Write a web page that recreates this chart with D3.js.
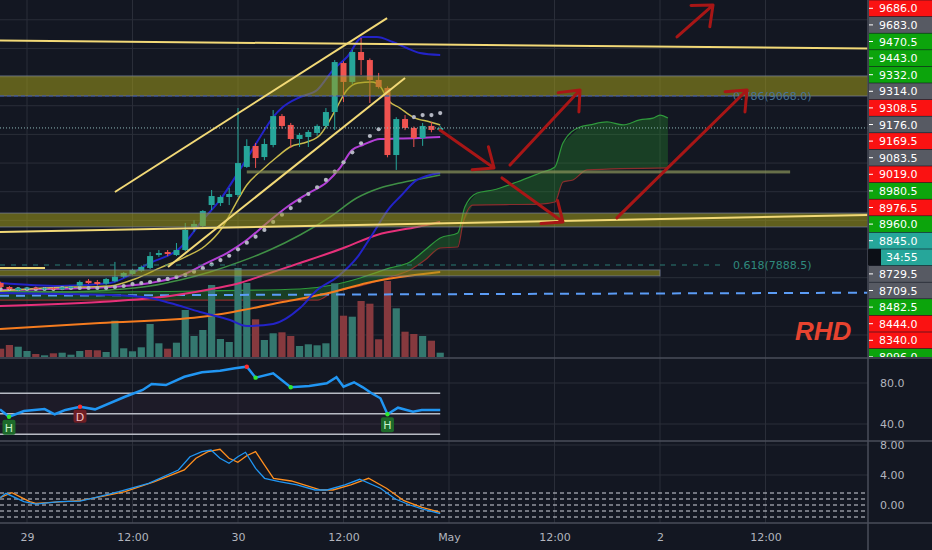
<!DOCTYPE html>
<html>
<head>
<meta charset="utf-8">
<script src="https://cdn.jsdelivr.net/npm/d3@7"></script>
<style>
  body { margin: 0; background: #131722; }
  svg { display: block; font-family: "DejaVu Sans", sans-serif; }
</style>
</head>
<body>
<svg id="chart" width="932" height="550"></svg>
<script>
// BTC 1h candles, hours counted from 29 Apr 2020 00:00
var hours = d3.range(-3, 48);
var opens  = [7763,7735,7714,7724,7730,7722,7727,7720,7730,7745,7778,7770,7758,7775,7807,7826,7847,7868,7958,7979,7958,7993,8154,8161,8307,8321,8363,8377,8573,8719,8642,8726,8928,8866,8768,8782,8810,8859,8956,9298,9166,9375,9319,9180,9124,8656,8907,8845,8775,8859,8831];
var highs  = [7772,7742,7735,7735,7738,7732,7735,7738,7742,7780,7791,7784,7798,7910,7840,7862,7885,7979,7993,7993,8042,8182,8200,8272,8412,8375,8426,8984,8766,8740,8770,8970,8942,8880,8810,8830,8870,8984,9319,9310,9390,9473,9330,9229,9135,8920,8935,8855,8880,8887,8860];
var lows   = [7728,7714,7707,7714,7718,7712,7714,7712,7724,7738,7755,7745,7750,7768,7798,7820,7840,7860,7945,7950,7951,7985,8120,8150,8272,8300,8307,8363,8566,8566,8620,8710,8840,8705,8712,8712,8790,8840,8831,9026,9150,9215,9019,9120,8640,8552,8830,8712,8720,8815,8820];
var closes = [7735,7721,7728,7730,7722,7726,7720,7732,7736,7770,7762,7756,7791,7807,7833,7854,7875,7951,7972,7965,7993,8133,8175,8265,8370,8363,8384,8600,8719,8635,8733,8928,8859,8768,8796,8817,8859,8956,9305,9166,9375,9319,9180,9131,8656,8907,8845,8775,8859,8831,8845];
var volumes = [332,480,412,240,120,68,148,172,92,240,280,268,200,1452,348,228,388,1320,548,332,572,1880,840,1080,2880,720,600,3560,2960,1508,680,948,988,840,440,508,468,548,2948,1652,1612,2240,2132,708,3040,1948,1012,920,840,652,172];
var sarDots = [7721,7721,7721,7721,7721,7721,7721,7728,7728,7728,7728,7728,7728,7735,7742,7756,7763,7770,7784,7791,7805,7819,7842,7866,7893,7923,7953,7998,8044,8086,8133,8189,8240,8286,8337,8384,8431,8482,8540,8605,8675,8738,8789,8836,8859,8887,8894,8921,8935,8935,8949];

// moving averages / bands as [hour, price]
var bbUpper = [[-3.07,7763],[3.75,7742],[9.44,7763],[14,7903],[17.4,8007],[20,8203],[21.95,8342],[24.2,8552],[25.4,8670],[26.8,8810],[28,8921],[29.1,8991],[31.05,9061],[33,9110],[34.8,9249],[36.4,9340],[38.2,9480],[39.8,9480],[41.6,9445],[43.2,9403],[44.7,9368],[47,9354]];
var bbLower = [[-3.07,7693],[3.75,7686],[9.44,7679],[14,7658],[16.26,7623],[19.68,7561],[23.09,7505],[25,7463],[28,7477],[31.05,7588],[33,7714],[35.3,7805],[37.6,7945],[39.1,8084],[41.3,8293],[42.4,8363],[44.36,8482],[47,8531]];
var smaFast = [[-3.07,7707],[2.05,7728],[9.44,7742],[12.28,7791],[15.13,7868],[17.97,7944],[20.25,8021],[22.18,8147],[23.66,8307],[25,8447],[26.73,8552],[28.43,8642],[29.91,8712],[31.85,8747],[33.33,8796],[34.46,8901],[35.26,8991],[36.4,9110],[37.65,9159],[39.24,9166],[40.15,9138],[41.06,9040],[42.42,8984],[43.9,8921],[45.84,8887],[47,8866]];
var emaMid = [[-3.07,7714],[9.44,7735],[14,7763],[17.4,7812],[20.47,7903],[22.75,7972],[25,8063],[27.3,8182],[29.57,8293],[31.85,8384],[34.12,8468],[35.6,8566],[36.97,8691],[38.2,8726],[40.15,8768],[42.42,8771],[44.7,8775],[47,8782]];
var emaSlow = [[-3.07,7700],[3.75,7700],[9.44,7714],[14,7742],[17.4,7784],[20.8,7840],[24.2,7910],[27.6,7993],[31.05,8098],[34.46,8223],[37.5,8356],[40.15,8426],[42.42,8461],[44.7,8489],[47,8517]];
var ema100 = [[-3.07,7602],[8.3,7630],[16.26,7672],[21.6,7728],[24.2,7763],[27.3,7826],[31.05,7902],[36.0,8007],[39.8,8098],[44.36,8154],[47,8189]];
var ema200 = [[-3.07,7442],[8.3,7484],[19.68,7526],[23.43,7561],[29.1,7630],[34.8,7700],[38.67,7763],[42.42,7805],[47,7840]];
var spanA = [[-3.07,7707],[8.3,7700],[19.68,7707],[31.05,7721],[34.8,7749],[37.9,7798],[41.3,7868],[43.56,7910],[45.27,7993],[47,8077],[49,8112],[49.8,8293],[51.2,8391],[53,8412],[55.73,8468],[58.35,8531],[60.05,8573],[60.96,8740],[62.9,8852],[64,8866],[65.97,8887],[67.8,8866],[69.7,8901],[71.2,8914],[72,8935],[72.9,8914]];
var spanB = [[-3.07,7644],[33,7644],[34.8,7700],[37.9,7742],[41.3,7805],[43.56,7854],[45.27,7923],[47,8007],[49,8014],[49.6,8182],[50.7,8307],[58.35,8314],[60.05,8328],[60.96,8468],[62.1,8482],[63.7,8552],[72.9,8566]];

// drawings: [hour1, price1, hour2, price2]
var trendLines = [[-3.07,9455,95.6,9400],[10.0,8398,40.96,9612],[16.04,7875,43.0,9194],[-3.07,8119,95.6,8238],[-3.07,7868,2.05,7868]];
var arrows = [[46.97,8831,53.12,8566],[54.94,8586,62.9,9110],[54.03,8496,60.96,8189],[67.1,8217,81.9,9110],[73.93,9480,78.03,9703]];
var zones = [[9208,9068,-3.2,96],[8251,8154,-3.2,96],[7854,7812,-3.2,72.0]];
var supportLine = [8538, 25.0, 86.8];
var blueDashed = [[-3.07,7674],[95.6,7695]];
var fibRatios = ["0.786","0.618"];
var fibPrices = [9068.0, 7888.5];
var fibEnd = 80.3;
var lastPrice = 8845.0;
var countdown = "34:55";

// price scale badges (top to bottom)
var axisPrices = [9686.0,9683.0,9470.5,9443.0,9332.0,9314.0,9308.5,9176.0,9169.5,9083.5,9019.0,8980.5,8976.5,8960.0,8845.0,8845.0,8729.5,8709.5,8482.5,8444.0,8340.0,8096.0];
var axisKinds  = ["dn","fl","up","up","up","fl","dn","fl","dn","fl","dn","up","dn","up","last","timer","fl","fl","up","dn","dn","up"];

// oscillators
var rsi = [[-3.07,54.3],[-2.05,47.1],[-0.34,52.7],[2,54.6],[3.15,49.5],[4.37,53.7],[6.03,56.9],[7.74,54.3],[11.15,66.6],[13.16,73.2],[14.18,79],[15.8,78],[17.9,86.1],[19.9,90.4],[21.96,92],[23.66,94.3],[25,95.9],[26,85.2],[28,89.5],[30,75.8],[32.1,77.1],[34.1,79.7],[35.2,85.6],[36,76.4],[37.2,80.7],[38.2,75.8],[39.2,70],[40.2,65.1],[41,49.5],[42.2,55.9],[43.9,52],[44.9,53.7],[47,53.7]];
var rsiLevels = [70, 50, 30];
var rsiSignals = [[-2.05,47.1,"H"],[6.03,56.9,"D"],[41,49.5,"H"]];
var rsiDots = [[25,95.9,"dn"],[26,85.2,"up"],[30,75.8,"up"]];
var macd = [[-3.07,0.97],[-2.39,1.56],[-0.36,0.44],[0.99,0.13],[3.7,0.44],[6.03,0.53],[7.73,0.97],[10.46,1.77],[13.83,2.89],[17.22,4.67],[18.54,6.44],[19.9,7.11],[20.93,7.33],[21.95,6.23],[22.98,5.56],[23.98,6.44],[24.85,7.03],[26,4.89],[27.02,3.56],[28.7,3.11],[30.71,2.67],[32.76,2.0],[34.12,2.0],[36.15,2.67],[37.84,3.43],[40.2,2.23],[41.9,0.8],[43.56,0.0],[44.93,-0.53],[47,-1.16]];
var signal = [[-3.07,0.97],[-1.72,1.64],[0.31,0.44],[0.99,0.23],[6.03,0.57],[8.42,1.11],[11.15,1.77],[14.51,3.11],[17.89,4.67],[19.22,6.23],[20.59,7.11],[21.95,7.43],[22.98,6.23],[23.98,5.69],[24.99,6.57],[26,7.11],[27.02,5.33],[28.04,3.56],[30.06,3.2],[33.44,2.0],[34.8,2.0],[36.83,2.67],[38.85,3.56],[40.88,2.23],[42.88,0.57],[44.93,-0.31],[47,-0.97]];
var macdLevels = [1.6, 0.8, 0, -0.8, -1.6];

var tickHours = [0,12,24,36,48,60,72,84];
var tickLabels = ["29","12:00","30","12:00","May","12:00","2","12:00"];

var W = 932, H = 550, plotR = 868;
var mainB = 358, rsiB = 441, macdB = 523;
var base = new Date(2020, 3, 29, 0, 0).getTime();
function at(h) { return new Date(base + h * 36e5); }

var x = d3.scaleTime().domain([at(0), at(48)]).range([27, 449]);
var y = d3.scaleLinear().domain([fibPrices[1], fibPrices[0]]).range([265, 96]);
var yv = d3.scaleLinear().domain([0, d3.max(volumes)]).range([357, 268]);
var yr = d3.scaleLinear().domain([40, 80]).range([424, 383]);
var ym = d3.scaleLinear().domain([0, 8]).range([505, 445]);

var svg = d3.select("#chart");
svg.append("rect").attr("width", W).attr("height", H).attr("fill", "#131722");

var defs = svg.append("defs");
function clip(id, y0, y1) {
  defs.append("clipPath").attr("id", id).append("rect")
    .attr("x", 0).attr("y", y0).attr("width", plotR).attr("height", y1 - y0);
}
clip("cMain", 0, mainB); clip("cRsi", mainB, rsiB); clip("cMacd", rsiB, macdB);

// grid
var grid = svg.append("g").attr("stroke", "#2a2e39").attr("stroke-width", 1);
tickHours.concat([96]).forEach(function(h) {
  var gx = x(at(h));
  if (gx < plotR) grid.append("line").attr("x1", gx).attr("x2", gx).attr("y1", 0).attr("y2", macdB);
});
d3.range(7400, 9601, 200).forEach(function(p) {
  grid.append("line").attr("x1", 0).attr("x2", plotR).attr("y1", y(p)).attr("y2", y(p));
});
[40, 80].forEach(function(v) { grid.append("line").attr("x1", 0).attr("x2", plotR).attr("y1", yr(v)).attr("y2", yr(v)); });
[4, 8].forEach(function(v) { grid.append("line").attr("x1", 0).attr("x2", plotR).attr("y1", ym(v)).attr("y2", ym(v)); });

var line = d3.line().x(function(d) { return x(at(d[0])); }).y(function(d) { return y(d[1]); }).curve(d3.curveMonotoneX);

// ---------- main pane ----------
var main = svg.append("g").attr("clip-path", "url(#cMain)");

// cloud
var cloudPts = spanA.concat(spanB.slice().reverse());
main.append("path")
  .attr("d", d3.line().x(function(d) { return x(at(d[0])); }).y(function(d) { return y(d[1]); })(cloudPts) + "Z")
  .attr("fill", "rgba(40,150,45,0.32)");
main.append("path").attr("d", line(spanA)).attr("fill", "none").attr("stroke", "#2f9a3c").attr("stroke-width", 1.2);
main.append("path").attr("d", line(spanB)).attr("fill", "none").attr("stroke", "#8a2d2d").attr("stroke-width", 1.2);

// volume
main.selectAll(".vol").data(hours).enter().append("rect")
  .attr("x", function(h) { return x(at(h)) - 3.6; })
  .attr("width", 7.2)
  .attr("y", function(h, i) { return yv(volumes[i]); })
  .attr("height", function(h, i) { return yv(0) - yv(volumes[i]); })
  .attr("fill", function(h, i) { return closes[i] >= opens[i] ? "#34786f" : "#86393e"; });

main.append("path").attr("d", d3.line().x(function(d) { return x(at(d[0])); }).y(function(d) { return y(d[1]); })(blueDashed))
  .attr("stroke", "#5b9cf6").attr("stroke-width", 2).attr("stroke-dasharray", "9,7").attr("fill", "none");

// moving averages
[[ema200, "#f57c1f", 2], [ema100, "#e6307a", 2], [emaSlow, "#3f8f45", 1.5], [bbLower, "#2323c8", 2],
 [bbUpper, "#2323c8", 2], [emaMid, "#b33fd6", 2], [smaFast, "#c9ba4c", 1.5]].forEach(function(s) {
  main.append("path").attr("d", line(s[0])).attr("fill", "none")
    .attr("stroke", s[1]).attr("stroke-width", s[2]);
});

// dots
main.selectAll(".sar").data(hours).enter().append("circle")
  .attr("cx", function(h) { return x(at(h)); })
  .attr("cy", function(h, i) { return y(sarDots[i]); })
  .attr("r", 2.1).attr("fill", "#b4b7c2");

// candles
var cg = main.selectAll(".candle").data(hours).enter().append("g");
cg.append("line")
  .attr("x1", function(h) { return x(at(h)); }).attr("x2", function(h) { return x(at(h)); })
  .attr("y1", function(h, i) { return y(highs[i]); }).attr("y2", function(h, i) { return y(lows[i]); })
  .attr("stroke", function(h, i) { return closes[i] >= opens[i] ? "#26a69a" : "#ef5350"; }).attr("stroke-width", 1);
cg.append("rect")
  .attr("x", function(h) { return x(at(h)) - 3; }).attr("width", 6)
  .attr("y", function(h, i) { return y(Math.max(opens[i], closes[i])); })
  .attr("height", function(h, i) { return Math.max(1, Math.abs(y(opens[i]) - y(closes[i]))); })
  .attr("fill", function(h, i) { return closes[i] >= opens[i] ? "#26a69a" : "#ef5350"; });

// zones
zones.forEach(function(z) {
  main.append("rect").attr("x", x(at(z[2]))).attr("width", x(at(z[3])) - x(at(z[2])))
    .attr("y", y(z[0])).attr("height", y(z[1]) - y(z[0]))
    .attr("fill", "rgba(160,155,25,0.55)").attr("stroke", "rgba(120,130,160,0.7)").attr("stroke-width", 1);
});
main.append("rect").attr("x", x(at(supportLine[1]))).attr("width", x(at(supportLine[2])) - x(at(supportLine[1])))
  .attr("y", y(supportLine[0]) - 1.5).attr("height", 3).attr("fill", "rgba(140,150,90,0.7)");

// fib levels + price line
main.append("line").attr("x1", 0).attr("x2", x(at(fibEnd))).attr("y1", y(fibPrices[0])).attr("y2", y(fibPrices[0]))
  .attr("stroke", "#3553a8").attr("stroke-width", 1).attr("stroke-dasharray", "4,3");
main.append("line").attr("x1", 0).attr("x2", x(at(fibEnd - 1.1))).attr("y1", y(fibPrices[1])).attr("y2", y(fibPrices[1]))
  .attr("stroke", "#2a7d74").attr("stroke-width", 1).attr("stroke-dasharray", "5,6");
main.append("text").attr("x", x(at(fibEnd))).attr("y", y(fibPrices[0]) + 4).attr("font-size", 11)
  .attr("fill", "#4a7596").text(fibRatios[0] + "(" + fibPrices[0].toFixed(1) + ")");
main.append("text").attr("x", x(at(fibEnd))).attr("y", y(fibPrices[1]) + 4).attr("font-size", 11)
  .attr("fill", "#2f8a7e").text(fibRatios[1] + "(" + fibPrices[1].toFixed(1) + ")");
main.append("line").attr("x1", 0).attr("x2", plotR).attr("y1", y(lastPrice)).attr("y2", y(lastPrice))
  .attr("stroke", "#8fb8b8").attr("stroke-width", 1).attr("stroke-dasharray", "1,2");

// trend lines
trendLines.forEach(function(t) {
  main.append("line").attr("x1", x(at(t[0]))).attr("y1", y(t[1])).attr("x2", x(at(t[2]))).attr("y2", y(t[3]))
    .attr("stroke", "#f2d977").attr("stroke-width", 2);
});

// arrows
arrows.forEach(function(a) {
  var x1 = x(at(a[0])), y1 = y(a[1]), x2 = x(at(a[2])), y2 = y(a[3]);
  var ang = Math.atan2(y2 - y1, x2 - x1), L = 22, s = 0.7;
  var d = "M" + x1 + "," + y1 + "L" + x2 + "," + y2 +
    "M" + (x2 - L * Math.cos(ang - s)) + "," + (y2 - L * Math.sin(ang - s)) + "L" + x2 + "," + y2 +
    "L" + (x2 - L * Math.cos(ang + s)) + "," + (y2 - L * Math.sin(ang + s));
  main.append("path").attr("d", d).attr("fill", "none").attr("stroke", "#a81616")
    .attr("stroke-width", 3).attr("stroke-linecap", "round").attr("stroke-linejoin", "round");
});

main.append("text").attr("x", 795).attr("y", 340).attr("font-family", "Liberation Sans, Arial, sans-serif")
  .attr("font-weight", "bold").attr("font-style", "italic").attr("font-size", 26)
  .attr("fill", "#e8432f").text("RHD");

// ---------- RSI pane ----------
var rp = svg.append("g").attr("clip-path", "url(#cRsi)");
var rx0 = x(at(rsi[0][0])), rx1 = x(at(rsi[rsi.length - 1][0]));
rp.append("rect").attr("x", rx0).attr("width", rx1 - rx0).attr("y", yr(rsiLevels[0]))
  .attr("height", yr(rsiLevels[2]) - yr(rsiLevels[0])).attr("fill", "rgba(110,60,90,0.12)");
rsiLevels.forEach(function(v) {
  rp.append("line").attr("x1", rx0).attr("x2", rx1).attr("y1", yr(v)).attr("y2", yr(v))
    .attr("stroke", "#b8bbc4").attr("stroke-width", 1.5);
});
var rline = d3.line().x(function(d) { return x(at(d[0])); }).y(function(d) { return yr(d[1]); });
rp.append("path").attr("d", rline(rsi)).attr("fill", "none").attr("stroke", "#2196f3").attr("stroke-width", 2.5);
rsiDots.forEach(function(d) {
  rp.append("circle").attr("cx", x(at(d[0]))).attr("cy", yr(d[1])).attr("r", 2.2)
    .attr("fill", d[2] === "up" ? "#2ee82e" : "#ff2a2a");
});
rsiSignals.forEach(function(s) {
  var sx = x(at(s[0])), sy = yr(s[1]), isH = s[2] === "H";
  rp.append("circle").attr("cx", sx).attr("cy", sy).attr("r", 2.2).attr("fill", isH ? "#2ee82e" : "#ff2a2a");
  rp.append("rect").attr("x", sx - 6.5).attr("y", sy + 3).attr("width", 13).attr("height", isH ? 15 : 13).attr("rx", 2)
    .attr("fill", isH ? "#1d6a2a" : "#6d1d24");
  rp.append("text").attr("x", sx).attr("y", sy + (isH ? 15 : 14)).attr("text-anchor", "middle").attr("font-size", 11)
    .attr("fill", isH ? "#c8f2c8" : "#f2c0c0").text(s[2]);
});

// ---------- MACD pane ----------
var mp = svg.append("g").attr("clip-path", "url(#cMacd)");
macdLevels.forEach(function(v) {
  mp.append("line").attr("x1", 0).attr("x2", plotR).attr("y1", ym(v)).attr("y2", ym(v))
    .attr("stroke", "#d1d4dc").attr("stroke-width", 1.2).attr("stroke-dasharray", "4,3");
});
var mline = d3.line().x(function(d) { return x(at(d[0])); }).y(function(d) { return ym(d[1]); });
mp.append("path").attr("d", mline(signal)).attr("fill", "none").attr("stroke", "#ff8f1f").attr("stroke-width", 1.3);
mp.append("path").attr("d", mline(macd)).attr("fill", "none").attr("stroke", "#2196f3").attr("stroke-width", 1.3);

// ---------- separators & axes ----------
var sep = svg.append("g").attr("stroke", "#4a4e5a").attr("stroke-width", 1.5);
[mainB, rsiB, macdB].forEach(function(v) { sep.append("line").attr("x1", 0).attr("x2", W).attr("y1", v).attr("y2", v); });
sep.append("line").attr("x1", plotR).attr("x2", plotR).attr("y1", 0).attr("y2", H);

var xAxis = svg.append("g").attr("transform", "translate(0," + macdB + ")")
  .call(d3.axisBottom(x).tickValues(tickHours.map(at)).tickFormat(function(d, i) { return tickLabels[i]; })
    .tickSize(0).tickPadding(10));
var rAxis = svg.append("g").attr("transform", "translate(" + plotR + ",0)")
  .call(d3.axisRight(yr).tickValues([40, 80]).tickFormat(d3.format(".1f")).tickSize(0).tickPadding(12));
var mAxis = svg.append("g").attr("transform", "translate(" + plotR + ",0)")
  .call(d3.axisRight(ym).tickValues([0, 4, 8]).tickFormat(d3.format(".2f")).tickSize(0).tickPadding(12));
[xAxis, rAxis, mAxis].forEach(function(a) {
  a.select(".domain").remove();
  a.selectAll("text").attr("fill", "#b2b5be").attr("font-size", 11).attr("font-family", "DejaVu Sans, sans-serif");
});

// price badges, stacked so they do not overlap
defs.append("clipPath").attr("id", "cAxis").append("rect").attr("x", plotR).attr("y", 0).attr("width", W - plotR).attr("height", mainB - 1);
var badgeG = svg.append("g").attr("clip-path", "url(#cAxis)");
var bh = 16.6, prev = -Infinity;
var kindColor = { up: "#0ca40c", dn: "#fa1212", fl: "#575a63", last: "#26a69a", timer: "#26a69a" };
axisPrices.forEach(function(p, i) {
  var cy = Math.max(y(p), prev + bh, bh / 2);
  prev = cy;
  var k = axisKinds[i];
  if (k === "timer") {
    badgeG.append("rect").attr("x", plotR).attr("y", cy - 8).attr("width", 13).attr("height", 16).attr("fill", "#0c0f16");
    badgeG.append("rect").attr("x", plotR + 13).attr("y", cy - 8).attr("width", W - plotR - 13).attr("height", 16).attr("fill", kindColor[k]);
    badgeG.append("text").attr("x", plotR + 18).attr("y", cy + 4).attr("font-size", 11).attr("fill", "#ffffff").text(countdown);
    return;
  }
  badgeG.append("rect").attr("x", plotR + 1).attr("y", cy - 8).attr("width", W - plotR).attr("height", 16).attr("fill", kindColor[k]);
  badgeG.append("line").attr("x1", plotR + 1).attr("x2", plotR + 5).attr("y1", cy).attr("y2", cy).attr("stroke", "#ffffff");
  badgeG.append("text").attr("x", plotR + 11).attr("y", cy + 4).attr("font-size", 11).attr("fill", "#ffffff").text(p.toFixed(1));
});
</script>
</body>
</html>
